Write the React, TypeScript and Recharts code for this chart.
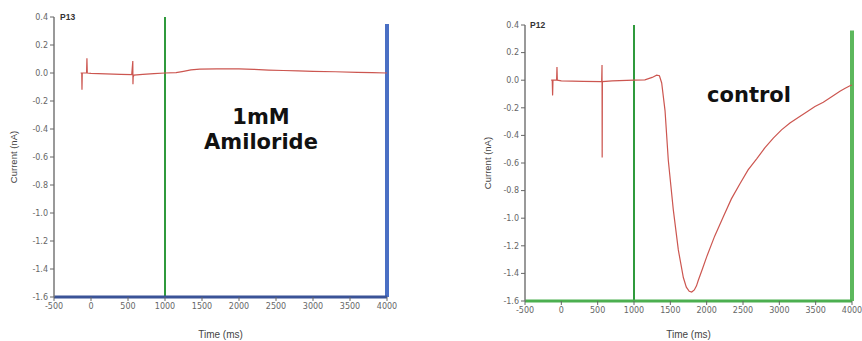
import { Line, LineChart, ReferenceLine, XAxis, YAxis } from "recharts";

// time (ms) and current (nA)
const amilorideTime = [
  -140, -125, -122, -118, -60, -55, -50, 0, 200, 400, 550, 565, 567, 570, 580,
  700, 850, 1000, 1150, 1250, 1350, 1470, 1700, 2000, 2200, 2400, 2600, 2800,
  3000, 3300, 3600, 3800, 4000,
];
const amilorideCurrent = [
  0.0, 0.0, -0.12, 0.0, 0.0, 0.105, 0.0, -0.003, -0.006, -0.01, -0.012, 0.085,
  -0.08, -0.03, -0.015, -0.01, -0.005, 0.0, 0.003, 0.012, 0.022, 0.028, 0.03,
  0.03, 0.026, 0.021, 0.018, 0.015, 0.012, 0.009, 0.005, 0.003, 0.0,
];

const controlTime = [
  -140, -125, -120, -115, -65, -60, -55, 0, 300, 555, 560, 562, 565, 700, 1000,
  1150, 1250, 1312, 1350, 1381, 1427, 1472, 1541, 1610, 1679, 1720, 1760, 1794,
  1830, 1860, 1885, 1940, 2000, 2110, 2229, 2340, 2458, 2570, 2688, 2800, 2917,
  3030, 3146, 3260, 3376, 3490, 3605, 3720, 3834, 3900, 3972, 4000,
];
const controlCurrent = [
  0.0, 0.0, -0.11, 0.0, 0.0, 0.095, 0.0, -0.005, -0.008, -0.01, 0.11, -0.56,
  -0.01, -0.005, 0.0, 0.002, 0.02, 0.036, 0.032, -0.02, -0.22, -0.58, -0.94,
  -1.23, -1.43, -1.5, -1.53, -1.535, -1.52, -1.49, -1.45, -1.37, -1.28, -1.13,
  -0.99, -0.86, -0.75, -0.65, -0.57, -0.49, -0.42, -0.36, -0.31, -0.27, -0.23,
  -0.19, -0.16, -0.12, -0.08, -0.06, -0.04, -0.035,
];

const xTicks = [-500, 0, 500, 1000, 1500, 2000, 2500, 3000, 3500, 4000];
const yTicks = [0.4, 0.2, 0, -0.2, -0.4, -0.6, -0.8, -1.0, -1.2, -1.4, -1.6];

const amilorideData = amilorideTime.map((t, i) => ({ t, i: amilorideCurrent[i] }));
const controlData = controlTime.map((t, i) => ({ t, i: controlCurrent[i] }));

const tickStyle = { fontSize: 8, fill: "#666", fontFamily: "DejaVu Sans, Verdana" };
const labelFont = "Liberation Sans, Arial";
const bigFont = "DejaVu Sans, Verdana";

function YTitle(props: any) {
  const { viewBox, dx } = props;
  const x = viewBox.x + dx;
  const y = viewBox.y + viewBox.height / 2;
  return (
    <text
      x={x}
      y={y}
      transform={`rotate(-90 ${x} ${y})`}
      textAnchor="middle"
      dominantBaseline="central"
      fontSize={9.5}
      fill="#444"
      fontFamily={labelFont}
    >
      Current (nA)
    </text>
  );
}

interface PanelProps {
  data: { t: number; i: number }[];
  width: number;
  margin: { top: number; right: number; bottom: number; left: number };
  yWidth: number;
  xHeight: number;
  yTitleDx: number;
  bottomStroke: string;
  edgeStroke: string;
  edgeTop: number;
}

function Panel(p: PanelProps) {
  return (
    <LineChart width={p.width} height={341} data={p.data} margin={p.margin}>
      <XAxis
        dataKey="t"
        type="number"
        domain={[-500, 4000]}
        ticks={xTicks}
        tick={tickStyle}
        tickSize={4}
        tickLine={{ stroke: "#666" }}
        axisLine={{ stroke: p.bottomStroke, strokeWidth: 3 }}
        height={p.xHeight}
        interval={0}
        label={{
          value: "Time (ms)",
          position: "insideBottom",
          offset: 3,
          fontSize: 10,
          fill: "#444",
          fontFamily: labelFont,
        }}
      />
      <YAxis
        type="number"
        domain={[-1.6, 0.4]}
        ticks={yTicks}
        tick={tickStyle}
        tickFormatter={(v: number) => v.toFixed(1)}
        tickSize={4}
        tickLine={{ stroke: "#666" }}
        axisLine={{ stroke: "#777", strokeWidth: 1.5 }}
        width={p.yWidth}
        interval={0}
        label={(lp: any) => <YTitle {...lp} dx={p.yTitleDx} />}
      />
      <ReferenceLine x={1000} stroke="#2f9a3c" strokeWidth={2} />
      <ReferenceLine
        segment={[
          { x: 4000, y: p.edgeTop },
          { x: 4000, y: -1.6 },
        ]}
        stroke={p.edgeStroke}
        strokeWidth={4}
      />
      <Line
        dataKey="i"
        stroke="#cc5650"
        strokeWidth={1.2}
        dot={false}
        type="linear"
        isAnimationActive={false}
      />
    </LineChart>
  );
}

export default function App() {
  return (
    <div
      style={{
        position: "absolute",
        left: 0,
        top: 0,
        width: 862,
        height: 341,
        background: "#fff",
        overflow: "hidden",
      }}
    >
      <div style={{ position: "absolute", left: 0, top: 0 }}>
        <Panel
          data={amilorideData}
          width={430}
          margin={{ top: 17, right: 43, bottom: 0, left: 10 }}
          yWidth={44}
          xHeight={44}
          yTitleDx={3}
          bottomStroke="#3a5397"
          edgeStroke="#4a6fc4"
          edgeTop={0.35}
        />
      </div>
      <div style={{ position: "absolute", left: 430, top: 0 }}>
        <Panel
          data={controlData}
          width={432}
          margin={{ top: 25, right: 10, bottom: 0, left: 55 }}
          yWidth={40}
          xHeight={40}
          yTitleDx={2}
          bottomStroke="#4caf50"
          edgeStroke="#5cb85c"
          edgeTop={0.36}
        />
      </div>
      <div
        style={{
          position: "absolute",
          left: 60,
          top: 12,
          fontSize: 8.5,
          fontWeight: "bold",
          fontFamily: labelFont,
          color: "#333",
        }}
      >
        P13
      </div>
      <div
        style={{
          position: "absolute",
          left: 530,
          top: 20,
          fontSize: 8.5,
          fontWeight: "bold",
          fontFamily: labelFont,
          color: "#333",
        }}
      >
        P12
      </div>
      <div
        style={{
          position: "absolute",
          left: 161,
          top: 105,
          width: 200,
          textAlign: "center",
          fontSize: 21,
          lineHeight: "25px",
          fontWeight: "bold",
          fontFamily: bigFont,
          color: "#111",
        }}
      >
        1mM
        <br />
        Amiloride
      </div>
      <div
        style={{
          position: "absolute",
          left: 649,
          top: 83,
          width: 200,
          textAlign: "center",
          fontSize: 21,
          lineHeight: "25px",
          fontWeight: "bold",
          fontFamily: bigFont,
          color: "#111",
        }}
      >
        control
      </div>
    </div>
  );
}
